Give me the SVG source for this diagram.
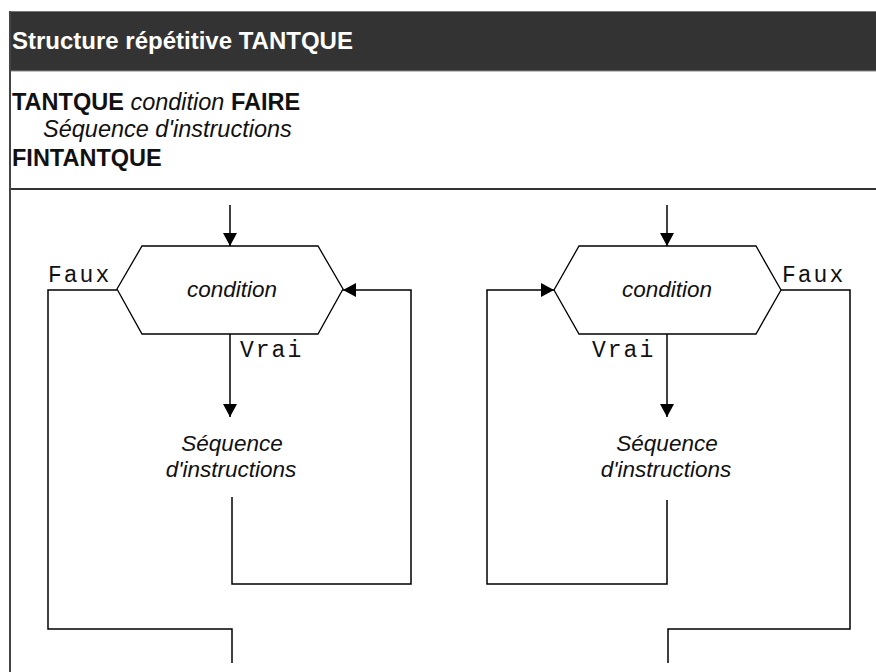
<svg xmlns="http://www.w3.org/2000/svg" width="876" height="672" viewBox="0 0 876 672">
<style>
.ln{fill:none;stroke:#000;stroke-width:1.5}
.hex{fill:#fff;stroke:#000;stroke-width:1.3}
.sans{font-family:"Liberation Sans",Arial,sans-serif}
.b{font-weight:bold}
.i{font-style:italic}
.mono{font-family:"Liberation Mono","Courier New",monospace;font-size:23px;letter-spacing:2px;fill:#111}
.lab{font-family:"Liberation Sans",Arial,sans-serif;font-style:italic;font-size:22.5px;fill:#111}
</style>
<defs>
<marker id="ah" markerWidth="16" markerHeight="16" refX="13" refY="8" orient="auto" markerUnits="userSpaceOnUse">
<path d="M0,1 L13,8 L0,15 Z" fill="#000"/>
</marker>
</defs>
<rect x="0" y="0" width="876" height="672" fill="#fff"/>
<g id="header">
<rect x="9" y="11" width="867" height="60" fill="#333"/>
<line x1="9" y1="11.5" x2="876" y2="11.5" stroke="#777" stroke-width="1"/>
<line x1="9" y1="71" x2="876" y2="71" stroke="#888" stroke-width="1"/>
<text x="12" y="49" class="sans b" font-size="24" fill="#fff">Structure répétitive TANTQUE</text>
</g>
<g id="code">
<text x="12" y="110" class="sans" font-size="23.5" fill="#111"><tspan class="b">TANTQUE</tspan> <tspan class="i">condition</tspan> <tspan class="b">FAIRE</tspan></text>
<text x="43" y="137" class="sans i" font-size="23.5" fill="#111">Séquence d'instructions</text>
<text x="12" y="166" class="sans b" font-size="23.5" fill="#111">FINTANTQUE</text>
</g>
<line x1="9" y1="189" x2="876" y2="189" stroke="#333" stroke-width="2"/>
<line x1="10" y1="11" x2="10" y2="672" stroke="#444" stroke-width="2"/>
<g id="cond-left">
<polygon class="hex" points="142,246 318,246 343,289 318,334 142,334 117,289"/>
<text x="232" y="297" class="lab" text-anchor="middle">condition</text>
</g>
<g id="seq-left">
<text x="232" y="451" class="lab" text-anchor="middle">Séquence</text>
<text x="231" y="477" class="lab" text-anchor="middle">d'instructions</text>
</g>
<g id="cond-right">
<polygon class="hex" points="579,246 756,246 781,290 756,334 579,334 554,290"/>
<text x="667" y="297" class="lab" text-anchor="middle">condition</text>
</g>
<g id="seq-right">
<text x="667" y="451" class="lab" text-anchor="middle">Séquence</text>
<text x="666" y="477" class="lab" text-anchor="middle">d'instructions</text>
</g>
<g id="connectors">
<line class="ln" x1="230" y1="205" x2="230" y2="246" marker-end="url(#ah)"/>
<line class="ln" x1="230" y1="334" x2="230" y2="417" marker-end="url(#ah)"/>
<polyline class="ln" points="232,497 232,584 411,584 411,290 343,290" marker-end="url(#ah)"/>
<polyline class="ln" points="117,290 48,290 48,629 232,629 232,663"/>
<line class="ln" x1="667" y1="205" x2="667" y2="246" marker-end="url(#ah)"/>
<line class="ln" x1="667" y1="334" x2="667" y2="417" marker-end="url(#ah)"/>
<polyline class="ln" points="667,500 667,584 487,584 487,290 554,290" marker-end="url(#ah)"/>
<polyline class="ln" points="781,290 850,290 850,629 668,629 668,663"/>
<text x="48" y="282" class="mono">Faux</text>
<text x="240" y="357" class="mono">Vrai</text>
<text x="592" y="357" class="mono">Vrai</text>
<text x="782" y="282" class="mono">Faux</text>
</g>
</svg>
